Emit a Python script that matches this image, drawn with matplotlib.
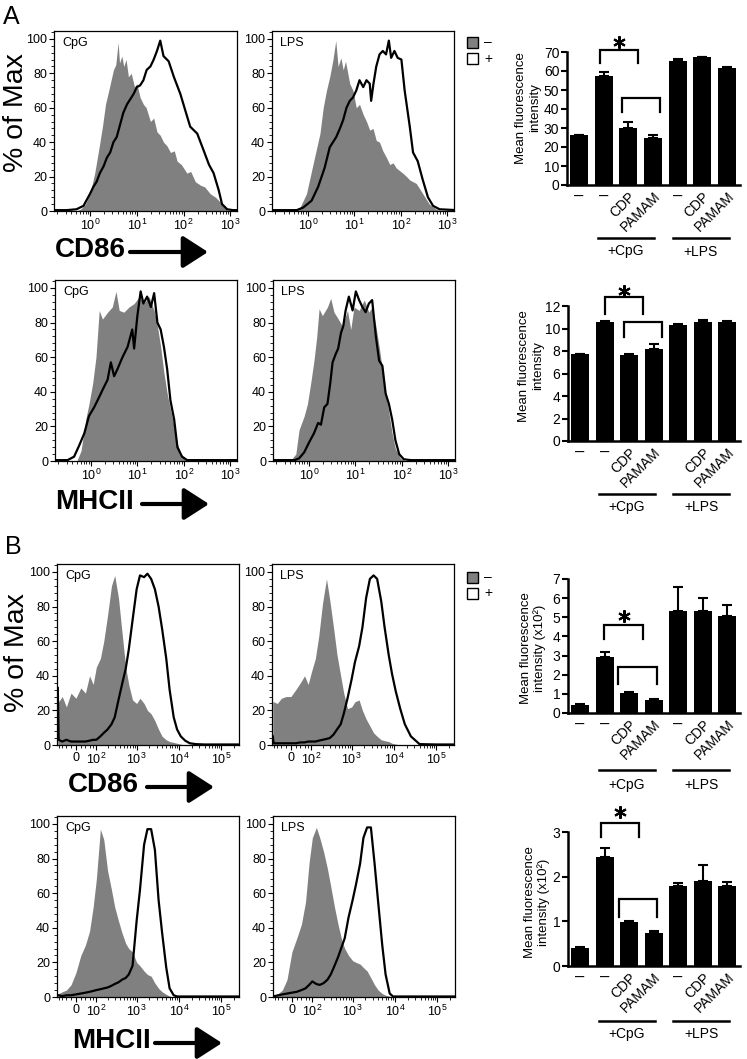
import numpy as np
import matplotlib
matplotlib.use('Agg')
import matplotlib.pyplot as plt
from matplotlib.ticker import FixedLocator, AutoMinorLocator, LogLocator, NullFormatter
from matplotlib.patches import Rectangle, FancyArrowPatch

plt.rcParams['font.family'] = ['Liberation Sans', 'DejaVu Sans']
plt.rcParams['mathtext.fontset'] = 'custom'
plt.rcParams['mathtext.rm'] = 'Liberation Sans'
plt.rcParams['mathtext.it'] = 'Liberation Sans:italic'
plt.rcParams['mathtext.bf'] = 'Liberation Sans:bold'
plt.rcParams['mathtext.default'] = 'regular'

# ---------------- DATA ----------------
# Panel A histograms: x given in decades (log10 of fluorescence), y = % of Max
A_CD86_CpG_neg_dec = [-0.8, -0.3, -0.2, -0.1, 0.0, 0.1, 0.2, 0.27, 0.33, 0.4, 0.45, 0.5, 0.55, 0.6, 0.63, 0.68, 0.72, 0.77, 0.82, 0.88, 0.95, 1.0, 1.07, 1.14, 1.2, 1.29, 1.36, 1.43, 1.5, 1.57, 1.64, 1.72, 1.8, 1.86, 1.95, 2.07, 2.15, 2.25, 2.36, 2.45, 2.57, 2.68, 2.79, 2.88, 2.95, 3.2]
A_CD86_CpG_neg = [0, 0, 1, 4, 10, 22, 38, 50, 62, 70, 76, 82, 85, 98, 86, 90, 84, 88, 78, 80, 72, 74, 66, 62, 60, 52, 54, 46, 44, 40, 38, 34, 35, 29, 27, 22, 23, 17, 15, 14, 10, 8, 5, 2, 0, 0]
A_CD86_CpG_pos_dec = [-0.8, -0.5, -0.29, -0.14, 0.0, 0.07, 0.14, 0.21, 0.29, 0.36, 0.43, 0.5, 0.57, 0.64, 0.71, 0.79, 0.86, 0.93, 1.0, 1.07, 1.14, 1.21, 1.29, 1.36, 1.43, 1.5, 1.57, 1.68, 1.79, 1.93, 2.04, 2.14, 2.29, 2.43, 2.54, 2.64, 2.75, 2.82, 2.93, 3.05, 3.2]
A_CD86_CpG_pos = [0.5, 0.5, 1, 3, 10, 14, 17, 22, 26, 31, 34, 40, 43, 50, 57, 62, 65, 68, 72, 73, 76, 82, 84, 88, 93, 99, 90, 87, 78, 68, 58, 49, 45, 35, 27, 22, 12, 4, 1, 0.5, 0.5]

A_CD86_LPS_neg_dec = [-0.8, -0.3, -0.17, -0.03, 0.11, 0.26, 0.33, 0.4, 0.47, 0.54, 0.6, 0.65, 0.71, 0.76, 0.81, 0.9, 0.97, 1.04, 1.11, 1.19, 1.26, 1.33, 1.4, 1.47, 1.54, 1.61, 1.69, 1.76, 1.83, 1.9, 2.04, 2.12, 2.19, 2.33, 2.4, 2.47, 2.61, 2.76, 2.9, 3.2]
A_CD86_LPS_neg = [0, 0, 2, 10, 27, 45, 60, 70, 78, 88, 99, 84, 89, 82, 87, 74, 70, 60, 62, 56, 52, 47, 48, 41, 40, 35, 31, 27, 28, 25, 22, 20, 18, 16, 13, 10, 4, 1, 0, 0]
A_CD86_LPS_pos_dec = [-0.8, -0.24, -0.1, 0.08, 0.22, 0.36, 0.47, 0.54, 0.61, 0.69, 0.76, 0.83, 0.9, 0.97, 1.04, 1.11, 1.19, 1.26, 1.33, 1.36, 1.41, 1.47, 1.54, 1.61, 1.68, 1.74, 1.79, 1.86, 1.93, 2.01, 2.08, 2.19, 2.26, 2.36, 2.47, 2.58, 2.69, 2.83, 3.2]
A_CD86_LPS_pos = [0.5, 0.5, 2, 6, 14, 25, 37, 40, 43, 48, 53, 60, 64, 66, 70, 76, 72, 76, 74, 64, 74, 84, 91, 93, 91, 99, 89, 93, 89, 88, 70, 49, 34, 29, 18, 8, 3, 1, 0.5]

A_MHCII_CpG_neg_dec = [-0.8, -0.3, -0.21, -0.11, -0.04, 0.04, 0.11, 0.18, 0.25, 0.36, 0.46, 0.54, 0.61, 0.71, 0.82, 0.93, 1.04, 1.14, 1.25, 1.36, 1.43, 1.5, 1.57, 1.64, 1.71, 1.79, 1.86, 1.93, 2.04, 3.2]
A_MHCII_CpG_neg = [0, 0, 6, 24, 33, 45, 60, 87, 82, 86, 89, 98, 87, 86, 89, 91, 95, 91, 95, 87, 78, 66, 51, 39, 30, 20, 10, 4, 1, 0]
A_MHCII_CpG_pos_dec = [-0.8, -0.5, -0.36, -0.25, -0.14, -0.04, 0.07, 0.18, 0.25, 0.36, 0.43, 0.5, 0.57, 0.68, 0.79, 0.89, 0.93, 1.0, 1.07, 1.13, 1.21, 1.29, 1.36, 1.43, 1.5, 1.57, 1.64, 1.71, 1.79, 1.86, 1.96, 2.07, 3.2]
A_MHCII_CpG_pos = [0.5, 0.5, 2.5, 9, 16, 26, 31, 37, 41, 47, 57, 49, 53, 60, 66, 76, 65, 84, 98, 91, 95, 89, 97, 80, 76, 66, 53, 35, 24, 8, 2.5, 0.5, 0.5]

A_MHCII_LPS_neg_dec = [-0.8, -0.39, -0.28, -0.21, -0.1, -0.03, 0.04, 0.11, 0.17, 0.22, 0.29, 0.4, 0.47, 0.54, 0.61, 0.72, 0.83, 0.9, 0.97, 1.08, 1.19, 1.29, 1.36, 1.44, 1.51, 1.58, 1.65, 1.72, 1.79, 1.86, 1.97, 2.08, 3.2]
A_MHCII_LPS_neg = [0, 0.5, 4, 18, 26, 33, 45, 58, 72, 88, 84, 89, 94, 86, 83, 78, 87, 76, 89, 87, 93, 86, 89, 78, 66, 53, 39, 28, 16, 7, 1.5, 0, 0]
A_MHCII_LPS_pos_dec = [-0.8, -0.31, -0.21, -0.1, 0.01, 0.11, 0.2, 0.26, 0.33, 0.4, 0.46, 0.51, 0.58, 0.63, 0.69, 0.74, 0.79, 0.86, 0.94, 1.01, 1.08, 1.15, 1.22, 1.29, 1.36, 1.44, 1.51, 1.58, 1.65, 1.72, 1.79, 1.86, 1.94, 2.04, 2.19, 3.2]
A_MHCII_LPS_pos = [0.5, 0.5, 1.5, 5, 11, 16, 22, 21, 31, 33, 45, 57, 62, 65, 74, 78, 87, 95, 87, 98, 93, 89, 86, 91, 93, 72, 58, 55, 39, 33, 24, 12, 4, 1, 0.5, 0.5]

# Panel B histograms: shared fluorescence channel values (biexponential axis)
B_x = [-85, -80, -60, -40, -20, 0, 20, 40, 60, 80, 100, 130, 160, 200, 250, 300, 370, 450, 550, 650,
       800, 1000, 1200, 1500, 1800, 2200, 2700, 3300, 4000, 5000, 6000, 7500, 9000, 11000, 14000,
       18000, 25000, 40000, 100000, 260000]
B_CD86_CpG_neg = [25, 25, 28, 22, 30, 27, 33, 30, 40, 35, 45, 50, 60, 75, 92, 98, 85, 65, 45, 35, 26, 24, 27, 24, 20, 18, 14, 9, 5, 3, 2, 1.5, 1, 0.5, 0, 0, 0, 0, 0, 0]
B_CD86_CpG_pos = [33, 3, 2, 3, 2, 2, 2, 2, 2.5, 3, 3, 5, 7, 9, 12, 16, 26, 35, 44, 55, 72, 90, 98, 97, 99, 96, 90, 80, 67, 50, 32, 16, 9, 5, 2.5, 1, 0.5, 0.3, 0.3, 0.3]
B_CD86_LPS_neg = [25, 25, 24, 27, 28, 28, 32, 36, 40, 35, 42, 50, 63, 82, 96, 84, 68, 52, 40, 30, 21, 22, 25, 26, 20, 15, 11, 7, 5, 3, 2.5, 2, 1, 0.5, 0, 0, 0, 0, 0, 0]
B_CD86_LPS_pos = [5, 1, 1, 1, 1, 1, 1, 1.5, 1.5, 2, 2, 2, 2.5, 3, 3.5, 4, 6, 9, 12, 18, 27, 38, 48, 57, 68, 85, 96, 98, 96, 83, 68, 52, 41, 31, 21, 12, 5, 0.5, 0.3, 0.3]
B_MHCII_CpG_neg = [2, 2, 3, 4, 7, 14, 24, 30, 38, 52, 68, 97, 91, 73, 62, 52, 44, 37, 31, 28, 26, 20, 18, 15, 13, 12, 8, 5, 3, 1.5, 0.5, 0, 0, 0, 0, 0, 0, 0, 0, 0]
B_MHCII_CpG_pos = [1, 1, 0.5, 1, 1, 1.5, 2, 2.5, 3, 3.5, 4, 4.5, 5, 5.5, 6.5, 7.5, 8.5, 10, 11, 13, 18, 44, 62, 88, 97, 97, 85, 56, 37, 17, 5, 1, 0.3, 0.3, 0.3, 0.3, 0.3, 0.3, 0.3, 0.3]
B_MHCII_LPS_neg = [1, 1, 2, 4, 10, 26, 34, 42, 55, 78, 92, 98, 92, 84, 74, 64, 52, 42, 33, 28, 24, 21, 20, 19, 17, 15, 11, 7, 4, 2, 1, 0.5, 0, 0, 0, 0, 0, 0, 0, 0]
B_MHCII_LPS_pos = [0.5, 0.5, 1, 1.5, 2, 2.5, 3, 4, 5, 7, 9, 7.5, 7, 8, 10, 13, 18, 23, 29, 34, 46, 56, 65, 77, 92, 98, 98, 77, 55, 30, 13, 2, 0.3, 0.3, 0.3, 0.3, 0.3, 0.3, 0.3, 0.3]

# Bar charts (mean fluorescence intensity)
bar_labels_A1 = ['–', '–', 'CDP', 'PAMAM', '–', 'CDP', 'PAMAM']
bar_labels_A2 = ['–', '–', 'CDP', 'PAMAM', '', 'CDP', 'PAMAM']
bar_labels_B = ['–', '–', 'CDP', 'PAMAM', '–', 'CDP', 'PAMAM']
groups = ['+CpG', '+LPS']
A_CD86_mfi = [26.2, 57.2, 30.1, 24.9, 65.5, 67.2, 61.8]
A_CD86_err = [0.3, 2.3, 3.1, 1.3, 0.6, 0.3, 0.5]
A_MHCII_mfi = [7.7, 10.6, 7.65, 8.15, 10.35, 10.6, 10.6]
A_MHCII_err = [0.05, 0.1, 0.05, 0.5, 0.05, 0.2, 0.1]
B_CD86_mfi = [0.42, 2.93, 1.05, 0.66, 5.35, 5.33, 5.08]
B_CD86_err = [0.03, 0.24, 0.07, 0.06, 1.25, 0.68, 0.58]
B_MHCII_mfi = [0.41, 2.44, 0.98, 0.74, 1.79, 1.91, 1.79]
B_MHCII_err = [0.02, 0.2, 0.02, 0.05, 0.07, 0.35, 0.09]

GRAY = '#808080'
W, H = 747, 1059
fig = plt.figure(figsize=(W / 100, H / 100), dpi=100)


def rect(l, r, t, b):
    return [l / W, 1 - b / H, (r - l) / W, (b - t) / H]


def fx(x):
    return x / W


def fy(y):
    return 1 - y / H


def hist_style(ax, tag):
    ax.set_ylim(0, 104.6)
    ax.set_yticks([0, 20, 40, 60, 80, 100])
    ax.yaxis.set_minor_locator(AutoMinorLocator(5))
    for s in ax.spines.values():
        s.set_linewidth(0.9)
    ax.tick_params(which='major', direction='out', length=3.5, width=0.8, labelsize=9, pad=1.5)
    ax.tick_params(which='minor', direction='out', length=2, width=0.6)
    ax.text(0.045, 0.935, tag, transform=ax.transAxes, fontsize=9, va='center', ha='left')


def hist_A(r, tag, xn, yn, xp, yp):
    ax = fig.add_axes(r)
    ax.fill_between(np.power(10.0, xn), 0, yn, color=GRAY, lw=0)
    ax.plot(np.power(10.0, xp), yp, color='k', lw=1.6)
    ax.set_xscale('log')
    ax.set_xlim(10 ** -0.77, 10 ** 3.14)
    ax.xaxis.set_major_locator(FixedLocator([1, 10, 100, 1000]))
    ax.set_xticklabels(['$10^0$', '$10^1$', '$10^2$', '$10^3$'])
    ax.xaxis.set_minor_locator(LogLocator(subs=np.arange(2, 10)))
    ax.xaxis.set_minor_formatter(NullFormatter())
    hist_style(ax, tag)
    return ax


def fwd(x):
    return np.arcsinh(np.asarray(x, dtype=float) / 74.0)


def inv(y):
    return 74.0 * np.sinh(np.asarray(y, dtype=float))


def hist_B(r, tag, yn, yp):
    ax = fig.add_axes(r)
    ax.set_xscale('function', functions=(fwd, inv))
    ax.fill_between(B_x, 0, yn, color=GRAY, lw=0)
    ax.plot(B_x, yp, color='k', lw=1.6)
    ax.set_xlim(-90, 2.6e5)
    ax.xaxis.set_major_locator(FixedLocator([0, 100, 1000, 1e4, 1e5]))
    ax.set_xticklabels(['0', '$10^2$', '$10^3$', '$10^4$', '$10^5$'])
    minors = [-80, -60, -40, -20, 20, 40, 60, 80]
    for k in [100, 1000, 10000, 100000]:
        minors += [m * k for m in range(2, 10)]
    ax.xaxis.set_minor_locator(FixedLocator(minors))
    ax.xaxis.set_minor_formatter(NullFormatter())
    hist_style(ax, tag)
    return ax


hist_A(rect(54, 237, 31, 211), 'CpG', A_CD86_CpG_neg_dec, A_CD86_CpG_neg, A_CD86_CpG_pos_dec, A_CD86_CpG_pos)
hist_A(rect(272, 454, 31, 211), 'LPS', A_CD86_LPS_neg_dec, A_CD86_LPS_neg, A_CD86_LPS_pos_dec, A_CD86_LPS_pos)
hist_A(rect(55, 237, 280, 461), 'CpG', A_MHCII_CpG_neg_dec, A_MHCII_CpG_neg, A_MHCII_CpG_pos_dec, A_MHCII_CpG_pos)
hist_A(rect(273, 455, 280, 461), 'LPS', A_MHCII_LPS_neg_dec, A_MHCII_LPS_neg, A_MHCII_LPS_pos_dec, A_MHCII_LPS_pos)
hist_B(rect(57, 239, 564, 745), 'CpG', B_CD86_CpG_neg, B_CD86_CpG_pos)
hist_B(rect(272, 454, 564, 745), 'LPS', B_CD86_LPS_neg, B_CD86_LPS_pos)
hist_B(rect(57, 239, 816, 997), 'CpG', B_MHCII_CpG_neg, B_MHCII_CpG_pos)
hist_B(rect(273, 455, 816, 997), 'LPS', B_MHCII_LPS_neg, B_MHCII_LPS_pos)


def bar_panel(r, vals, errs, yticks, labels, brackets, star):
    ax = fig.add_axes(r)
    x = np.arange(len(vals))
    ax.bar(x, vals, width=0.73, color='k', edgecolor='k', lw=0)
    ax.errorbar(x, vals, yerr=[np.zeros(len(errs)), errs], fmt='none', ecolor='k',
                elinewidth=1.5, capsize=3.5, capthick=1.5)
    ax.set_xlim(-0.49, 6.52)
    ax.set_ylim(yticks[0], yticks[-1])
    ax.set_yticks(yticks)
    ax.set_xticks(x)
    ax.set_xticklabels(labels)
    for t, lab in zip(ax.get_xticklabels(), labels):
        if lab in ('CDP', 'PAMAM'):
            t.set_rotation(45)
            t.set_ha('right')
            t.set_va('top')
            t.set_rotation_mode('anchor')
            t.set_fontsize(10)
        else:
            t.set_fontsize(12)
    for side in ('top', 'right'):
        ax.spines[side].set_visible(False)
    for side in ('left', 'bottom'):
        ax.spines[side].set_linewidth(1.8)
    ax.tick_params(axis='y', direction='out', length=4, width=1.5, labelsize=10, pad=1.5)
    ax.tick_params(axis='x', length=0, pad=3)
    for (x0, x1, ytop, yend) in brackets:
        ax.plot([x0, x0, x1, x1], [yend, ytop, ytop, yend], color='k', lw=1.6,
                clip_on=False, solid_joinstyle='miter')
    ax.plot([star[0]], [star[1]], marker=(6, 2, 0), ms=9, mew=1.5, color='k', clip_on=False)
    tr = ax.get_xaxis_transform()
    return ax, tr


def group_lines(ax, tr, yline, ytext):
    for (x0, x1), g in zip([(0.77, 3.04), (3.8, 6.07)], groups):
        ax.plot([x0, x1], [yline, yline], color='k', lw=1.8, transform=tr, clip_on=False)
        ax.text((x0 + x1) / 2, ytext, g, transform=tr, ha='center', va='center', fontsize=10)


ax1, tr1 = bar_panel(rect(567, 740, 52, 185), A_CD86_mfi, A_CD86_err, [0, 10, 20, 30, 40, 50, 60, 70],
                     bar_labels_A1, [(0.85, 2.39, 71.2, 64.2), (1.74, 3.28, 46, 38.5)], (1.62, 75.5))
group_lines(ax1, tr1, -0.40, -0.50)
ax2, tr2 = bar_panel(rect(568, 740, 306, 441), A_MHCII_mfi, A_MHCII_err, [0, 2, 4, 6, 8, 10, 12],
                     bar_labels_A2, [(1.0, 2.55, 12.77, 11.3), (1.8, 3.35, 10.6, 9.27)], (1.8, 13.3))
group_lines(ax2, tr2, -0.393, -0.49)
ax3, tr3 = bar_panel(rect(568, 740, 579, 713), B_CD86_mfi, B_CD86_err, [0, 1, 2, 3, 4, 5, 6, 7],
                     bar_labels_B, [(0.97, 2.55, 4.62, 3.87), (1.54, 3.12, 2.39, 1.53)], (1.78, 5.05))
group_lines(ax3, tr3, -0.425, -0.537)
ax4, tr4 = bar_panel(rect(568, 740, 832, 966), B_MHCII_mfi, B_MHCII_err, [0, 1, 2, 3],
                     bar_labels_B, [(0.85, 2.39, 3.2, 2.89), (1.58, 3.12, 1.49, 1.1)], (1.62, 3.45))
group_lines(ax4, tr4, -0.41, -0.507)

# bar y-labels
for (x1, x2, yc, l2) in [(521, 535, 108, 'intensity'), (524, 538, 366, 'intensity'),
                         (526, 540, 648, 'intensity (x10²)'), (530, 544, 902, 'intensity (x10²)')]:
    fig.text(fx(x1), fy(yc), 'Mean fluorescence', rotation=90, ha='center', va='center', fontsize=9.5)
    fig.text(fx(x2), fy(yc), l2, rotation=90, ha='center', va='center', fontsize=9.5)

# "% of Max" labels
fig.text(fx(16), fy(113), '% of Max', rotation=90, ha='center', va='center', fontsize=20.5)
fig.text(fx(17), fy(653), '% of Max', rotation=90, ha='center', va='center', fontsize=20.5)

# panel letters
fig.text(fx(3), fy(17), 'A', ha='left', va='center', fontsize=18)
fig.text(fx(5), fy(547), 'B', ha='left', va='center', fontsize=18)

# marker labels with arrows
for (txt, xl, yc, a0, a1) in [('CD86', 55, 250, 130, 208), ('MHCII', 55, 502, 142, 209),
                              ('CD86', 68, 785, 147, 214), ('MHCII', 72, 1041, 155, 222)]:
    fig.text(fx(xl), fy(yc), txt, ha='left', va='center', fontsize=20, fontweight='bold')
    arr = FancyArrowPatch((fx(a0), fy(yc + 2)), (fx(a1), fy(yc + 2)), transform=fig.transFigure,
                          arrowstyle='-|>,head_length=0.7,head_width=0.45', mutation_scale=22,
                          lw=3, color='k', shrinkA=0, shrinkB=0)
    fig.patches.append(arr)

# legends
for (y1, y2) in [(37, 53), (572, 588)]:
    fig.patches.append(Rectangle((fx(467), fy(y1 + 11)), 11 / W, 11 / H, transform=fig.transFigure,
                                 facecolor=GRAY, edgecolor='k', lw=1.0))
    fig.patches.append(Rectangle((fx(467), fy(y2 + 11)), 11 / W, 11 / H, transform=fig.transFigure,
                                 facecolor='white', edgecolor='k', lw=1.0))
    fig.text(fx(484), fy(y1 + 5.5), '–', ha='left', va='center', fontsize=10)
    fig.text(fx(484), fy(y2 + 5.5), '+', ha='left', va='center', fontsize=10)

fig.savefig('out.png', dpi=100)
